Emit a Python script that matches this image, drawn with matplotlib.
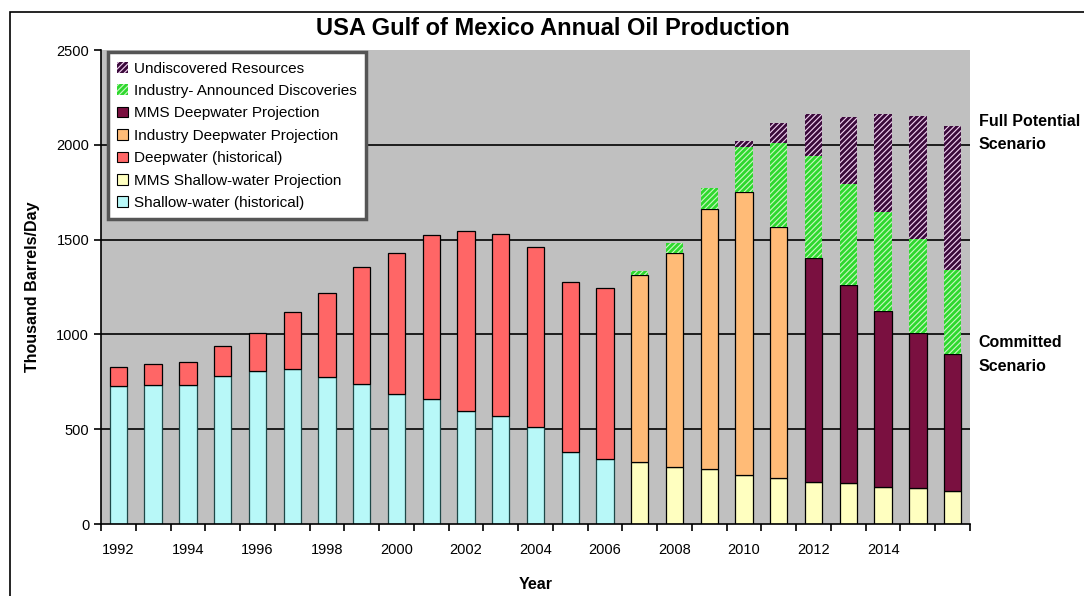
import matplotlib.pyplot as plt
import numpy as np
from matplotlib.patches import Patch, Rectangle

plt.rcParams['font.family'] = ['Liberation Sans', 'DejaVu Sans']
plt.rcParams['hatch.linewidth'] = 2.0

# Data (thousand barrels/day)
YEARS = list(range(1992, 2017))
HIST_YEARS = list(range(1992, 2007))
PROJ_YEARS = list(range(2007, 2017))

SHALLOW_HIST = [727, 733, 733, 782, 808, 820, 777, 736, 685, 662, 597, 571, 513, 378, 343]
DEEP_HIST = [102, 109, 123, 158, 201, 297, 441, 620, 747, 861, 949, 961, 949, 896, 904]

MMS_SHALLOW = [328, 302, 288, 261, 244, 223, 214, 196, 188, 174]
INDUSTRY_DEEP = [983, 1128, 1373, 1492, 1324, 0, 0, 0, 0, 0]
MMS_DEEP = [0, 0, 0, 0, 0, 1181, 1047, 927, 821, 724]
ANNOUNCED = [22, 51, 111, 236, 444, 538, 532, 521, 495, 442]
UNDISCOVERED = [0, 0, 0, 29, 101, 220, 354, 518, 648, 760]

YTICKS = [0, 500, 1000, 1500, 2000, 2500]
XLABEL_YEARS = list(range(1992, 2016, 2))

fig = plt.figure(figsize=(10.84, 5.96), dpi=100)
ax = fig.add_axes([0.0932, 0.1208, 0.8016, 0.7952])
ax.set_facecolor('#C0C0C0')

# frame around the figure
fig.patches.append(Rectangle((0.009, -0.01), 1.1, 0.99, transform=fig.transFigure,
                             fill=False, edgecolor='black', linewidth=1.2))

# Gridlines
for y in YTICKS[1:-1]:
    ax.axhline(y, color='black', linewidth=1.2, zorder=1)

w = 0.5
xh = np.array([YEARS.index(y) for y in HIST_YEARS])
xp = np.array([YEARS.index(y) for y in PROJ_YEARS])

ax.bar(xh, SHALLOW_HIST, w, color='#B8F8F8', edgecolor='#1E4848', linewidth=0.9, zorder=2)
ax.bar(xh, DEEP_HIST, w, bottom=SHALLOW_HIST, color='#FF6666', edgecolor='black', linewidth=0.9, zorder=2)

base = np.array(MMS_SHALLOW)
ax.bar(xp, MMS_SHALLOW, w, color='#FFFFC0', edgecolor='black', linewidth=0.9, zorder=2)
ind = np.array(INDUSTRY_DEEP)
m = ind > 0
ax.bar(xp[m], ind[m], w, bottom=base[m], color='#FFBB77', edgecolor='black', linewidth=0.9, zorder=2)
mms = np.array(MMS_DEEP)
m2 = mms > 0
ax.bar(xp[m2], mms[m2], w, bottom=base[m2], color='#7A1040', edgecolor='black', linewidth=0.9, zorder=2)
base = base + ind + mms

ax.bar(xp, ANNOUNCED, w, bottom=base, color='#C8F8C0', edgecolor='#2ED82E', hatch='//////',
       linewidth=0, zorder=2)
base = base + np.array(ANNOUNCED)
und = np.array(UNDISCOVERED)
m3 = und > 0
ax.bar(xp[m3], und[m3], w, bottom=base[m3], color='#F2D2F2', edgecolor='#3A0A3A', hatch='//////',
       linewidth=0, zorder=2)

# Axes formatting
ax.set_xlim(-0.5, 24.5)
ax.set_ylim(0, 2500)
ax.set_yticks(YTICKS)
ax.set_yticklabels([str(v) for v in YTICKS], fontsize=10.5)
ax.set_xticks([YEARS.index(y) for y in XLABEL_YEARS])
ax.set_xticklabels([str(y) for y in XLABEL_YEARS], fontsize=10.5)
ax.tick_params(axis='x', which='major', length=0, pad=14)
ax.set_xticks(np.arange(-0.5, 25, 1), minor=True)
ax.tick_params(axis='x', which='minor', length=5, width=1.2, direction='out')
ax.tick_params(axis='y', length=5, width=1.2)
for s in ['top', 'right']:
    ax.spines[s].set_visible(False)
for s in ['left', 'bottom']:
    ax.spines[s].set_linewidth(1.2)

ax.set_ylabel('Thousand Barrels/Day', fontsize=11.5, fontweight='bold', labelpad=12)
ax.set_xlabel('Year', fontsize=11.5, fontweight='bold', labelpad=14)
fig.text(0.51, 0.952, 'USA Gulf of Mexico Annual Oil Production', ha='center', va='center',
         fontsize=17, fontweight='bold')

fig.text(0.903, 0.777, 'Full Potential\nScenario', ha='left', va='center', fontsize=11.5,
         fontweight='bold', linespacing=1.7)
fig.text(0.903, 0.405, 'Committed\nScenario', ha='left', va='center', fontsize=11.5,
         fontweight='bold', linespacing=1.7)

handles = [
    Patch(facecolor='#F2D2F2', edgecolor='#3A0A3A', hatch='//////', linewidth=0, label='Undiscovered Resources'),
    Patch(facecolor='#C8F8C0', edgecolor='#2ED82E', hatch='//////', linewidth=0, label='Industry- Announced Discoveries'),
    Patch(facecolor='#7A1040', edgecolor='black', linewidth=0.8, label='MMS Deepwater Projection'),
    Patch(facecolor='#FFBB77', edgecolor='black', linewidth=0.8, label='Industry Deepwater Projection'),
    Patch(facecolor='#FF6666', edgecolor='black', linewidth=0.8, label='Deepwater (historical)'),
    Patch(facecolor='#FFFFC0', edgecolor='black', linewidth=0.8, label='MMS Shallow-water Projection'),
    Patch(facecolor='#B8F8F8', edgecolor='black', linewidth=0.8, label='Shallow-water (historical)'),
]
leg = ax.legend(handles=handles, loc='upper left', bbox_to_anchor=(0.008, 0.995), fontsize=11,
                handlelength=0.7, handleheight=0.7, handletextpad=0.4, labelspacing=0.55,
                borderpad=0.6, fancybox=False, framealpha=1, borderaxespad=0)
leg.get_frame().set_edgecolor('#555555')
leg.get_frame().set_linewidth(2.5)
leg.set_zorder(5)

fig.savefig('out.png', dpi=100)
